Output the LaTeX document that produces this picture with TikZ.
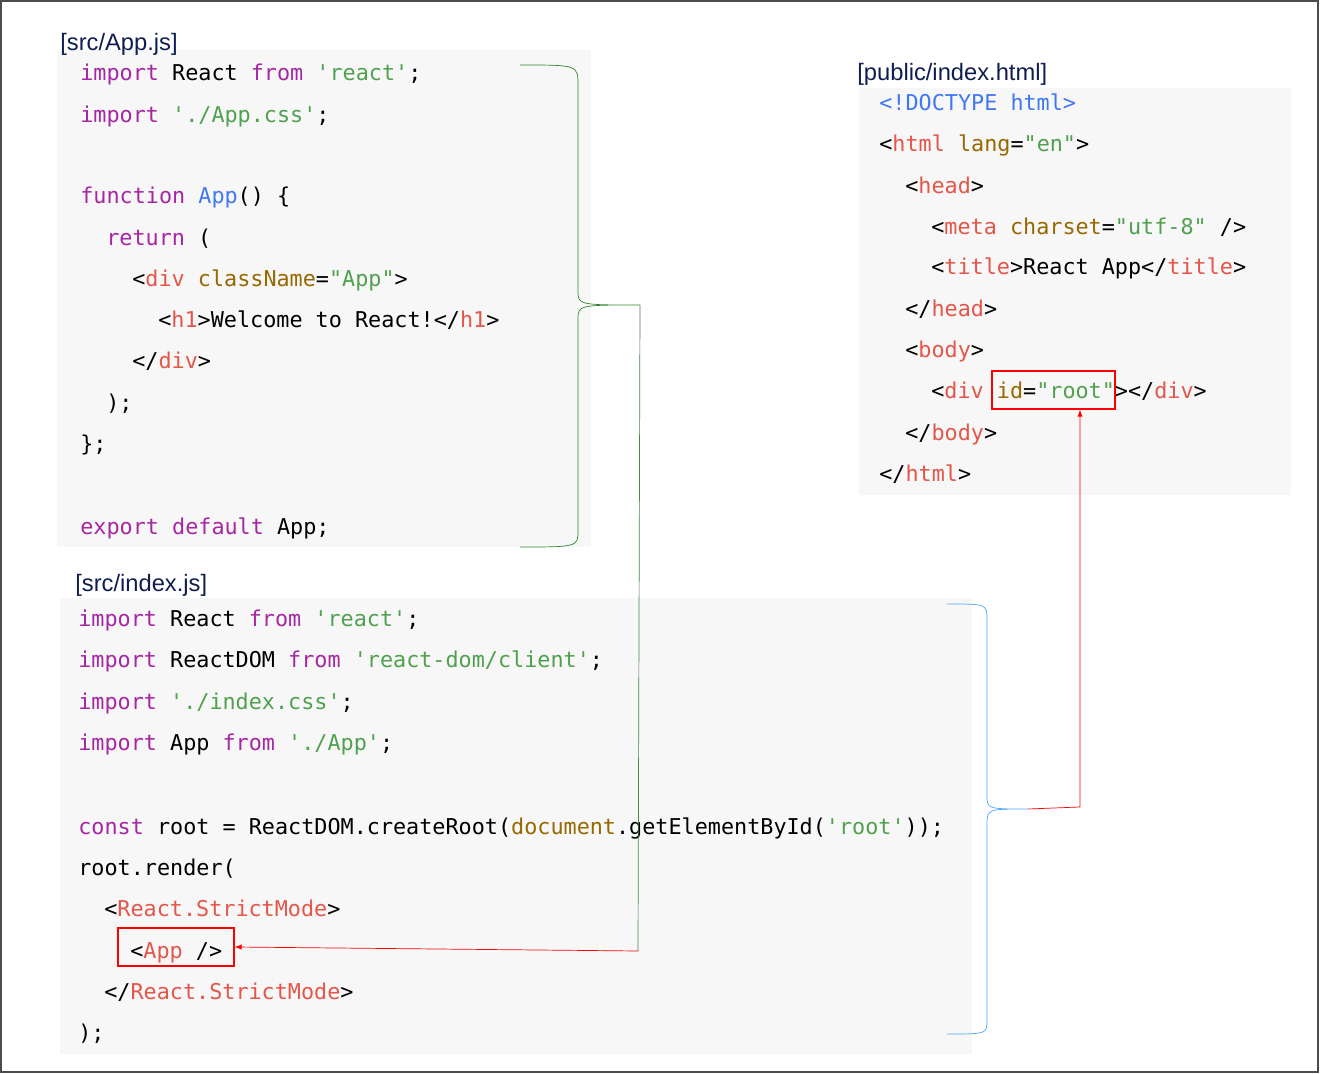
\documentclass[tikz,border=0pt]{standalone}
\usepackage{fontspec}
\setmainfont{Liberation Sans}
\setmonofont{DejaVu Sans Mono}
\usetikzlibrary{positioning,calc}
\definecolor{kwc}{RGB}{166,38,164}
\definecolor{strc}{RGB}{80,161,79}
\definecolor{tagc}{RGB}{228,86,73}
\definecolor{attc}{RGB}{152,104,1}
\definecolor{fnc}{RGB}{64,120,242}
\definecolor{codebg}{RGB}{247,247,247}
\definecolor{labc}{RGB}{15,30,80}
\newcommand{\kw}[1]{\textcolor{kwc}{#1}}
\newcommand{\sq}[1]{\textcolor{strc}{#1}}
\newcommand{\tg}[1]{\textcolor{tagc}{#1}}
\newcommand{\atr}[1]{\textcolor{attc}{#1}}
\newcommand{\fn}[1]{\textcolor{fnc}{#1}}
\tikzset{
  code/.style={anchor=base west, inner sep=0pt, font=\ttfamily\fontsize{12.4}{14}\selectfont},
  filetitle/.style={anchor=base west, inner sep=0pt, text=labc, font=\fontsize{13.5}{16}\selectfont},
  hilite/.style={draw=red, thick},
}
\begin{document}
\begin{tikzpicture}[x=0.02cm, y=-0.02cm]
  \useasboundingbox (0,0) rectangle (1320,1074);
  \draw[black!70, line width=1pt] (1,1) rectangle (1318,1072);

  % src/App.js
  \fill[codebg] (57,50) rectangle (591,547);
  \node[filetitle] (applabel) at (60,51) {[src/App.js]};
  \node[code] (a1) at (80,81) {\kw{import} React \kw{from} \sq{'react'};};
  \node[code] (a2) at (80,123) {\kw{import} \sq{'./App.css'};};
  \node[code] (a3) at (80,204) {\kw{function} \fn{App}() \{};
  \node[code] (a4) at (106,246) {\kw{return} (};
  \node[code] (a5) at (132,287) {<\tg{div} \atr{className}=\sq{"App"}>};
  \node[code] (a6) at (158,328) {<\tg{h1}>Welcome to React!</\tg{h1}>};
  \node[code] (a7) at (132,369) {</\tg{div}>};
  \node[code] (a8) at (106,411) {);};
  \node[code] (a9) at (80,452) {\};};
  \node[code] (a10) at (80,535) {\kw{export} \kw{default} App;};

  % src/index.js
  \fill[codebg] (60,598) rectangle (972,1054);
  \node[filetitle] (idxlabel) at (75,592) {[src/index.js]};
  \node[code] (b1) at (78,627) {\kw{import} React \kw{from} \sq{'react'};};
  \node[code] (b2) at (78,668) {\kw{import} ReactDOM \kw{from} \sq{'react-dom/client'};};
  \node[code] (b3) at (78,710) {\kw{import} \sq{'./index.css'};};
  \node[code] (b4) at (78,751) {\kw{import} App \kw{from} \sq{'./App'};};
  \node[code] (b5) at (78,834) {\kw{const} root = ReactDOM.createRoot(\atr{document}.getElementById(\sq{'root'}));};
  \node[code] (b6) at (78,875) {root.render(};
  \node[code] (b7) at (104,916) {<\tg{React.StrictMode}>};
  \node[code] (b8) at (130,958) {<\tg{App} />};
  \node[code] (b9) at (104,999) {</\tg{React.StrictMode}>};
  \node[code] (b10) at (78,1040) {);};
  \node[hilite, fit/.style={}, minimum width=116*0.02cm, minimum height=38*0.02cm, inner sep=0pt] (appbox) at (176,947) {};

  % public/index.html
  \fill[codebg] (859,88) rectangle (1291,495);
  \node[filetitle] (htmllabel) at (857,81) {[public/index.html]};
  \node[code] (c1) at (879,111) {\fn{<!DOCTYPE html>}};
  \node[code] (c2) at (879,152) {<\tg{html} \atr{lang}=\sq{"en"}>};
  \node[code] (c3) at (905,194) {<\tg{head}>};
  \node[code] (c4) at (931,235) {<\tg{meta} \atr{charset}=\sq{"utf-8"} />};
  \node[code] (c5) at (931,275) {<\tg{title}>React App</\tg{title}>};
  \node[code] (c6) at (905,317) {</\tg{head}>};
  \node[code] (c7) at (905,358) {<\tg{body}>};
  \node[code] (c8) at (931,399) {<\tg{div} \atr{id}=\sq{"root"}></\tg{div}>};
  \node[code] (c9) at (905,441) {</\tg{body}>};
  \node[code] (c10) at (879,482) {</\tg{html}>};
  \node[hilite, minimum width=123*0.02cm, minimum height=38*0.02cm, inner sep=0pt] (rootbox) at (1053.5,390) {};

  % braces
  \coordinate (apptip) at (640,305);
  \coordinate (appturn) at (638,951);
  \draw[green!40!black!80] (520,65) .. controls (578,65) .. (578,85) -- (578,290)
    .. controls (578,305) .. (apptip) .. controls (578,305) .. (578,320) -- (578,530)
    .. controls (578,547) .. (520,547);
  \draw[green!30!black!70] (apptip) -- (appturn);
  \draw[red, -latex] (appturn) -- (appbox.east);

  \coordinate (idxtip) at (1028,809);
  \coordinate (idxturn) at (1080,807);
  \draw[blue!50!cyan!70] (947,604) .. controls (987,604) .. (987,620) -- (987,795)
    .. controls (987,809) .. (idxtip) .. controls (987,809) .. (987,825) -- (987,1020)
    .. controls (987,1034) .. (947,1034);
  \draw[red, -latex] (idxtip) -- (idxturn) -- (rootbox.south -| idxturn);
\end{tikzpicture}
\end{document}
